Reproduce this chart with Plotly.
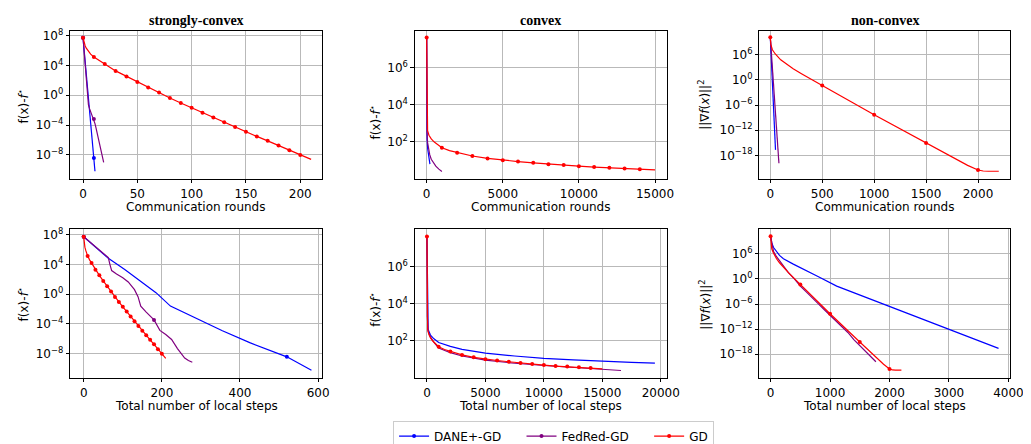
import numpy as np
import plotly.graph_objects as go

W, H = 1031, 444

# ---------------- data (values stored as log10) ----------------
# strongly-convex
sc_gd_x = [0, 1, 2, 3, 5, 7, 10, 15, 20, 30, 40, 50, 60, 70, 80, 90, 100, 110, 120,
           130, 140, 150, 160, 170, 180, 190, 200, 210]
sc_gd_logy = [7.7, 7.0, 6.6, 6.3, 5.9, 5.5, 5.13, 4.6, 4.17, 3.26, 2.52, 1.78, 1.05, 0.35,
              -0.38, -1.04, -1.69, -2.34, -3.0, -3.64, -4.26, -4.91, -5.52, -6.12, -6.73,
              -7.38, -8.0, -8.6]
sc_gd_marks = [0, 10, 20, 30, 40, 50, 60, 70, 80, 90, 100, 110, 120, 130, 140, 150, 160,
               170, 180, 190, 200]

sc_dane_rounds = [0, 1, 2, 3, 4, 5, 6, 7, 8, 9, 10, 11]
sc_dane_steps = [0, 35, 63, 105, 145, 185, 222, 290, 355, 425, 520, 583]
sc_dane_logy = [7.7, 6.05, 4.8, 3.3, 1.75, 0.2, -1.6, -3.3, -4.9, -6.5, -8.4, -10.2]
sc_dane_round_marks = [0, 10]
sc_dane_step_marks = [0, 520]

sc_fed_rounds = list(range(20))
sc_fed_round_logy = [7.7, 5.8, 4.0, 2.4, 0.9, -1.3, -1.8, -2.2, -2.5, -2.85, -3.2, -3.8,
                     -4.4, -5.1, -5.8, -6.4, -7.1, -7.8, -8.4, -9.0]
sc_fed_round_marks = [0, 10]
sc_fed_steps = [0, 63, 67, 71.5, 84, 100, 114, 130, 139, 143, 146, 160, 180, 195, 210,
                225, 240, 258.5, 268, 278]
sc_fed_step_logy = [7.7, 4.9, 4.0, 3.16, 2.7, 2.2, 1.63, 0.6, -0.33, -0.94, -1.6, -2.4,
                    -3.45, -4.86, -5.4, -6.08, -7.3, -8.56, -8.9, -9.12]
sc_fed_step_marks = [0, 180]

# convex
cv_gd_x = [0, 20, 60, 150, 300, 500, 700, 1000, 1500, 2000, 3000, 4000, 5000, 6000, 7000,
           8000, 9000, 10000, 11000, 12000, 13000, 14000, 15000]
cv_gd_logy = [7.62, 3.2, 2.6, 2.35, 2.15, 1.98, 1.84, 1.67, 1.52, 1.41, 1.23, 1.1, 1.0,
              0.93, 0.86, 0.79, 0.74, 0.68, 0.63, 0.6, 0.56, 0.52, 0.48]
cv_gd_marks = [0, 1000, 2000, 3000, 4000, 5000, 6000, 7000, 8000, 9000, 10000, 11000,
               12000, 13000, 14000]

cv_dane_rounds = [0, 3, 10, 30, 65, 100, 150, 214]
cv_dane_round_logy = [7.62, 3.5, 2.6, 2.1, 1.62, 1.35, 1.05, 0.79]
cv_dane_steps = [0, 30, 100, 300, 600, 1000, 2000, 3000, 5000, 7500, 10000, 12500, 15000,
                 17500, 19500]
cv_dane_step_logy = [7.62, 3.5, 2.6, 2.3, 2.1, 1.9, 1.69, 1.53, 1.33, 1.17, 1.04, 0.96,
                     0.88, 0.83, 0.79]

cv_fed_rounds = [0, 5, 20, 60, 120, 200, 300, 450, 600, 800, 1000]
cv_fed_round_logy = [7.62, 3.4, 2.5, 1.95, 1.6, 1.3, 1.05, 0.85, 0.68, 0.52, 0.39]
cv_fed_steps = [0, 30, 100, 300, 600, 1000, 2000, 3000, 5000, 7500, 10000, 12500, 15000,
                16600]
cv_fed_step_logy = [7.62, 3.3, 2.5, 2.2, 1.9, 1.6, 1.35, 1.17, 0.95, 0.78, 0.66, 0.55,
                    0.46, 0.39]

# non-convex
nc_gd_x = [0, 5, 20, 48, 100, 150, 220, 300, 380, 500, 1000, 1500, 1800, 1900, 2000, 2050,
           2100, 2200]
nc_gd_logy = [10.2, 8.5, 7.2, 6.2, 4.8, 3.85, 2.7, 1.5, 0.35, -1.35, -8.33, -15.07, -19.2,
              -20.4, -21.5, -21.75, -21.8, -21.8]
nc_gd_marks = [0, 500, 1000, 1500, 2000]

nc_dane_rounds = [0, 10, 20, 30, 40, 50]
nc_dane_round_logy = [10.2, 5.0, -0.4, -5.8, -11.2, -16.7]
nc_dane_steps = [0, 20, 50, 83, 150, 216, 382, 797, 1112, 3834]
nc_dane_step_logy = [10.2, 8.6, 7.5, 6.8, 5.6, 4.83, 3.52, 0.55, -1.72, -16.6]

nc_fed_rounds = [0, 20, 40, 60, 83]
nc_fed_round_logy = [10.2, 3.0, -4.3, -11.6, -19.9]
nc_fed_steps = [0, 50, 100, 200, 300, 400, 500, 600, 700, 800, 900, 1000, 1100, 1200,
                1300, 1400, 1500, 1600, 1700, 1771]
nc_fed_step_logy = [10.2, 6.5, 5.3, 3.5, 1.5, 0.0, -1.7, -3.1, -4.6, -5.9, -7.3, -8.7,
                    -10.0, -11.5, -12.8, -14.5, -15.9, -17.2, -18.8, -19.8]

names = ["DANE+-GD", "FedRed-GD", "GD"]
colors = ["#0000ff", "#800080", "#ff0000"]

# ---------------- figure ----------------
fig = go.Figure()
MS = 4


def add_series(x, logy, color, k, marks=None):
    y = list(10.0 ** np.array(logy, dtype=float))
    fig.add_trace(go.Scatter(x=x, y=y, mode="lines", line=dict(color=color, width=1.2),
                             xaxis="x%d" % k, yaxis="y%d" % k, showlegend=False,
                             hoverinfo="skip"))
    if marks:
        idx = [i for i, v in enumerate(x) if v in marks]
        fig.add_trace(go.Scatter(x=[x[i] for i in idx], y=[y[i] for i in idx],
                                 mode="markers",
                                 marker=dict(color=color, size=MS, symbol="circle"),
                                 xaxis="x%d" % k, yaxis="y%d" % k, showlegend=False,
                                 hoverinfo="skip"))


# top row: communication rounds
add_series(sc_dane_rounds, sc_dane_logy, colors[0], 1, sc_dane_round_marks)
add_series(sc_fed_rounds, sc_fed_round_logy, colors[1], 1, sc_fed_round_marks)
add_series(sc_gd_x, sc_gd_logy, colors[2], 1, sc_gd_marks)

add_series(cv_dane_rounds, cv_dane_round_logy, colors[0], 2)
add_series(cv_fed_rounds, cv_fed_round_logy, colors[1], 2)
add_series(cv_gd_x, cv_gd_logy, colors[2], 2, cv_gd_marks)

add_series(nc_dane_rounds, nc_dane_round_logy, colors[0], 3)
add_series(nc_fed_rounds, nc_fed_round_logy, colors[1], 3)
add_series(nc_gd_x, nc_gd_logy, colors[2], 3, nc_gd_marks)

# bottom row: total number of local steps
add_series(sc_dane_steps, sc_dane_logy, colors[0], 4, sc_dane_step_marks)
add_series(sc_fed_steps, sc_fed_step_logy, colors[1], 4, sc_fed_step_marks)
add_series(sc_gd_x, sc_gd_logy, colors[2], 4, sc_gd_marks)

add_series(cv_dane_steps, cv_dane_step_logy, colors[0], 5)
add_series(cv_fed_steps, cv_fed_step_logy, colors[1], 5)
add_series(cv_gd_x, cv_gd_logy, colors[2], 5, cv_gd_marks)

add_series(nc_dane_steps, nc_dane_step_logy, colors[0], 6)
add_series(nc_fed_steps, nc_fed_step_logy, colors[1], 6)
add_series(nc_gd_x, nc_gd_logy, colors[2], 6, nc_gd_marks)

# legend entries (non-breaking spaces pad the gaps between entries)
PAD = "\u00a0" * 4
for i, (n, c) in enumerate(zip(names, colors)):
    label = n + (PAD if i < len(names) - 1 else "")
    fig.add_trace(go.Scatter(x=[None], y=[None], mode="lines+markers", name=label,
                             line=dict(color=c, width=1.2),
                             marker=dict(color=c, size=MS), xaxis="x1", yaxis="y1"))

# ---------------- axes ----------------
FONT = "DejaVu Sans"
xdom_px = [(63, 318), (412, 667), (761, 1015)]
ydom_px = [(19, 171), (223, 375)]

x_ranges = [(-11.8, 220), (-780, 15760), (-105, 2310),
            (-34.6, 610), (-1040, 20500), (-188, 4030)]
x_dticks = [50, 5000, 500, 200, 5000, 1000]
y_ranges = [(-11.2, 8.67), (0.0, 8.0), (-23.6, 11.8)]
y_tick_exps = [[-8, -4, 0, 4, 8], [2, 4, 6], [-18, -12, -6, 0, 6]]


def exp_label(e):
    s = str(abs(e))
    return "10<sup>%s%s</sup>" % ("\u2212" if e < 0 else "", s)


common = dict(showline=True, mirror=True, linecolor="black", linewidth=1,
              ticks="outside", ticklen=3.5, tickwidth=0.8, tickcolor="black",
              showgrid=True, gridcolor="#b9b9b9", gridwidth=0.8, zeroline=False,
              tickfont=dict(family=FONT, size=12, color="black"))

layout_axes = {}
for k in range(1, 7):
    col = (k - 1) % 3
    row = (k - 1) // 3
    x0, x1 = xdom_px[col]
    t, b = ydom_px[row]
    layout_axes["xaxis%d" % k] = dict(
        domain=[x0 / W, x1 / W], anchor="y%d" % k, range=list(x_ranges[k - 1]),
        tickmode="linear", tick0=0, dtick=x_dticks[k - 1], tickformat="d", **common)
    exps = y_tick_exps[col]
    layout_axes["yaxis%d" % k] = dict(
        domain=[1 - b / H, 1 - t / H], anchor="x%d" % k, type="log",
        range=list(y_ranges[col]), tickmode="array",
        tickvals=[10.0 ** e for e in exps], ticktext=[exp_label(e) for e in exps],
        **common)

# ---------------- annotations ----------------
ann = []
titles = ["strongly-convex", "convex", "non-convex"]
for col, t in enumerate(titles):
    cx = (xdom_px[col][0] + xdom_px[col][1]) / 2
    ann.append(dict(text="<b>%s</b>" % t, x=cx / W, y=1 - 8.5 / H, xref="paper",
                    yref="paper", showarrow=False, xanchor="center", yanchor="middle",
                    font=dict(family="Liberation Serif", size=14, color="black")))

xlabels = ["Communication rounds", "Total number of local steps"]
xlabel_y = [200, 404]
for row in range(2):
    for col in range(3):
        cx = (xdom_px[col][0] + xdom_px[col][1]) / 2
        ann.append(dict(text=xlabels[row], x=cx / W, y=1 - xlabel_y[row] / H,
                        xref="paper", yref="paper", showarrow=False, xanchor="center",
                        yanchor="middle", font=dict(family=FONT, size=12, color="black")))

ylab_f = "f(x)-<i>f</i><sup>\u22c6</sup>"
ylab_g = "||\u2207<i>f</i>(<i>x</i>)||<sup>2</sup>"
ylabels = [ylab_f, ylab_f, ylab_g]
ylabel_x = [15, 372, 705]
ylabel_y = [[96, 113, 95], [299, 305, 300]]
for row in range(2):
    for col in range(3):
        ann.append(dict(text=ylabels[col], x=ylabel_x[col] / W,
                        y=1 - ylabel_y[row][col] / H, xref="paper", yref="paper",
                        showarrow=False, textangle=-90, xanchor="center",
                        yanchor="middle", font=dict(family=FONT, size=12, color="black")))

fig.update_layout(
    width=W, height=H, margin=dict(l=0, r=0, t=0, b=0),
    paper_bgcolor="white", plot_bgcolor="white",
    font=dict(family=FONT, size=12, color="black"),
    annotations=ann,
    legend=dict(orientation="h", x=390 / W, y=1 - 419 / H, xanchor="left",
                yanchor="top", bordercolor="#cccccc", borderwidth=1,
                font=dict(family=FONT, size=12, color="black"), bgcolor="white"),
    **layout_axes,
)

fig.write_html("out.html")
